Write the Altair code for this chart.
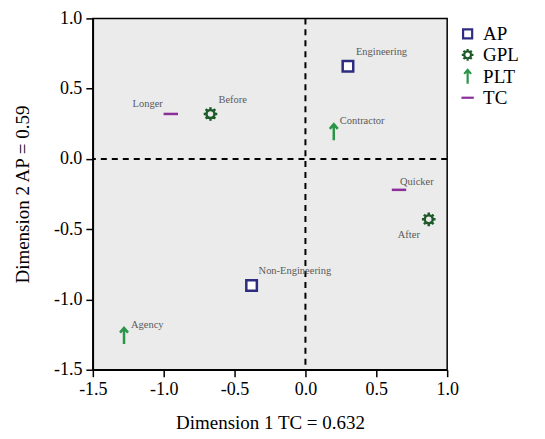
import altair as alt
import pandas as pd

labels = ["Engineering", "Non-Engineering", "Before", "After", "Contractor", "Agency", "Longer", "Quicker"]
groups = ["AP", "AP", "GPL", "GPL", "PLT", "PLT", "TC", "TC"]
dim1 = [0.30, -0.38, -0.67, 0.87, 0.20, -1.28, -0.95, 0.66]
dim2 = [0.66, -0.90, 0.32, -0.43, 0.19, -1.26, 0.32, -0.22]

group_order = ["AP", "GPL", "PLT", "TC"]
group_colors = ["#2E2C80", "#1E5A2A", "#2A9548", "#8A2F99"]

# label placement (pixel offsets, alignment) kept apart from data
label_style = {
    "Engineering": (8, -14, "left"),
    "Non-Engineering": (7, -14, "left"),
    "Before": (8, -14, "left"),
    "After": (-31, 16, "left"),
    "Contractor": (6, -11, "left"),
    "Agency": (7, -11, "left"),
    "Longer": (-8, -10, "right"),
    "Quicker": (1, -8, "left"),
}

df = pd.DataFrame({"label": labels, "group": groups, "dim1": dim1, "dim2": dim2})

square = "M-0.66,-0.66 L0.66,-0.66 L0.66,0.66 L-0.66,0.66 Z"
gear = ("M0.5,0 A0.5,0.5 0 1,1 -0.5,0 A0.5,0.5 0 1,1 0.5,0 Z "
        "M0,-0.5 L0,-0.85 M0,0.5 L0,0.85 M-0.5,0 L-0.85,0 M0.5,0 L0.85,0 "
        "M0.35,0.35 L0.6,0.6 M-0.35,-0.35 L-0.6,-0.6 M0.35,-0.35 L0.6,-0.6 M-0.35,0.35 L-0.6,0.6")
arrow = "M0,1 L0,-1 M-0.5,-0.42 L0,-1 L0.5,-0.42"
dash = "M-0.9,0 L0.9,0"

FONT = "Times New Roman, Liberation Serif, serif"

xs = alt.Scale(domain=[-1.5, 1.0], nice=False, zero=False)
ys = alt.Scale(domain=[-1.5, 1.0], nice=False, zero=False)
lab_expr = "replace(format(datum.value, '.1f'), '\u2212', '-')"
tick_vals = [-1.5, -1.0, -0.5, 0.0, 0.5, 1.0]

leg = alt.Legend(title=None, orient="none", legendX=366, legendY=6,
                 labelFontSize=19, labelFont=FONT, labelColor="black",
                 symbolSize=190, symbolStrokeWidth=2.2, rowPadding=0,
                 labelOffset=6)

base = alt.Chart(df)

points = base.mark_point(filled=False, strokeWidth=2.5, size=256, opacity=1).encode(
    x=alt.X("dim1:Q", scale=xs, title="Dimension 1 TC = 0.632",
            axis=alt.Axis(values=tick_vals, labelExpr=lab_expr, labelFlush=False)),
    y=alt.Y("dim2:Q", scale=ys, title="Dimension 2 AP = 0.59",
            axis=alt.Axis(values=tick_vals, labelExpr=lab_expr, labelFlush=False)),
    color=alt.Color("group:N", scale=alt.Scale(domain=group_order, range=group_colors), legend=leg),
    shape=alt.Shape("group:N", scale=alt.Scale(domain=group_order, range=[square, gear, arrow, dash]),
                    legend=leg),
    fill=alt.Fill("group:N", scale=alt.Scale(domain=group_order,
                                              range=["white", "transparent", "transparent", "transparent"]),
                  legend=None),
)

vline = alt.Chart(pd.DataFrame({"v": [0.0]})).mark_rule(
    color="black", strokeWidth=2, strokeDash=[6, 5]).encode(x=alt.X("v:Q", scale=xs))
hline = alt.Chart(pd.DataFrame({"v": [0.0]})).mark_rule(
    color="black", strokeWidth=2, strokeDash=[6, 5]).encode(y=alt.Y("v:Q", scale=ys))

texts = []
for lab, (dx, dy, al) in label_style.items():
    texts.append(
        base.transform_filter(alt.datum.label == lab).mark_text(
            dx=dx, dy=dy, align=al, baseline="middle", font=FONT, fontSize=10.5, color="#5a5a5a"
        ).encode(x=alt.X("dim1:Q", scale=xs), y=alt.Y("dim2:Q", scale=ys), text="label:N")
    )

chart = alt.layer(vline, hline, points, *texts).properties(
    width=355, height=352,
    autosize=alt.AutoSizeParams(type="none"),
    padding={"left": 85, "top": 10, "right": 90, "bottom": 69},
).configure_view(
    fill="#EBEBEB", stroke="black", strokeWidth=1.5
).configure_axis(
    grid=False, domainColor="black", domainWidth=1.5, tickColor="black", tickWidth=1.5,
    tickSize=7, labelFont=FONT, labelFontSize=18, labelColor="black", labelPadding=4,
    titleFont=FONT, titleFontSize=19, titleColor="black", titleFontWeight="normal",
).configure_axisX(titlePadding=15).configure_axisY(titlePadding=21)

chart.save("out.html", embed_options={"renderer": "svg", "actions": False})
